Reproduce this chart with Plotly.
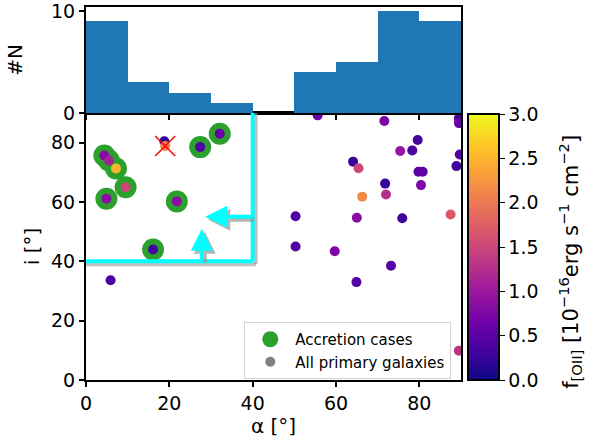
import plotly.graph_objects as go

# ---------------- data ----------------
# all primary galaxies: azimuthal angle alpha [deg], inclination i [deg], [OII] flux [1e-16 erg/s/cm2]
alpha_all = [4.4, 5.5, 7.2, 9.5, 4.9, 21.8, 16.1, 27.4, 32.1, 18.8, 19.0, 5.9,
             55.6, 71.6, 89.5, 89.5, 79.6, 78.3, 75.4, 89.7, 64.1, 65.4, 88.9,
             79.8, 80.8, 71.8, 80.4, 72.0, 66.3, 50.3, 65.0, 75.9, 87.5, 50.3,
             59.7, 73.2, 64.9, 89.5]
incl_all = [75.7, 74.0, 71.3, 65.0, 61.1, 60.2, 44.0, 78.5, 83.0, 80.5, 78.9, 33.6,
            89.2, 87.3, 88.2, 86.6, 80.9, 77.4, 77.2, 76.0, 73.6, 71.4, 72.1,
            70.2, 70.2, 66.2, 65.7, 62.5, 61.8, 55.2, 54.7, 54.5, 55.8, 45.0,
            43.4, 38.5, 33.0, 9.9]
foii_all = [0.8, 1.1, 2.5, 1.5, 0.85, 0.85, 0.35, 0.4, 0.6, 0.2, 2.1, 0.35,
            0.6, 0.75, 0.3, 0.6, 0.35, 0.4, 0.95, 0.45, 0.25, 1.5, 0.3,
            0.5, 0.5, 0.25, 0.75, 1.25, 2.15, 0.4, 0.85, 0.3, 1.7, 0.4,
            0.75, 0.45, 0.4, 1.3]

# accretion cases
alpha_acc = [4.4, 5.5, 7.2, 9.5, 4.9, 21.8, 16.1, 27.4, 32.1]
incl_acc = [75.7, 74.0, 71.3, 65.0, 61.1, 60.2, 44.0, 78.5, 83.0]

# rejected (crossed) galaxy
alpha_cross = [19.0]
incl_cross = [78.9]

# histogram of alpha
hist_edges = [0, 10, 20, 30, 40, 50, 60, 70, 80, 90]
hist_counts = [9, 3, 2, 1, 0, 4, 5, 10, 9]

# accretion selection region and arrows
region_alpha_max = 40
region_incl_min = 40
arrow_left_tail = (40, 55.0)
arrow_left_head = (28.6, 55.0)
arrow_up_tail = (27.8, 40)
arrow_up_head = (27.8, 51.0)

colorbar_ticks = [0.0, 0.5, 1.0, 1.5, 2.0, 2.5, 3.0]
colorbar_title = "f<sub>[OII]</sub> [10<sup>−16</sup>erg s<sup>−1</sup> cm<sup>−2</sup>]"

# ---------------- figure ----------------
W, H = 600, 443
ML, MR, MT, MB = 85.5, 139, 7, 63
plot_h = H - MT - MB
plot_w = W - ML - MR
split = (380 - 113) / plot_h
px_per_x = plot_w / 90.0
px_per_y = (split * plot_h) / 90.0

FONT = "DejaVu Sans"
fig = go.Figure()

centers = [(hist_edges[k] + hist_edges[k + 1]) / 2 for k in range(len(hist_counts))]
widths = [hist_edges[k + 1] - hist_edges[k] for k in range(len(hist_counts))]
fig.add_trace(go.Bar(x=centers, y=hist_counts, width=widths, marker=dict(color="#1f77b4", line=dict(width=0)),
                     xaxis="x2", yaxis="y2", showlegend=False, hoverinfo="skip"))

# green accretion circles
fig.add_trace(go.Scatter(x=alpha_acc, y=incl_acc, mode="markers",
                         marker=dict(color="#2ca02c", size=22, line=dict(width=0)),
                         showlegend=False))

# all galaxies
fig.add_trace(go.Scatter(x=alpha_all, y=incl_all, mode="markers",
                         marker=dict(color=foii_all, colorscale="Plasma", cmin=0, cmax=3, size=10,
                                     line=dict(width=0),
                                     colorbar=dict(
                                         x=(468 - ML) / plot_w, xanchor="left", xref="paper",
                                         y=0, yanchor="bottom", len=(380 - 114) / plot_h, lenmode="fraction",
                                         thickness=31, outlinecolor="black", outlinewidth=2,
                                         xpad=0, ypad=0,
                                         tickvals=colorbar_ticks, tickformat=".1f",
                                         ticks="outside", ticklen=5, tickcolor="black",
                                         tickfont=dict(family=FONT, size=19, color="black"),
                                     )),
                         showlegend=False))

# crossed point
fig.add_trace(go.Scatter(x=alpha_cross, y=incl_cross, mode="markers",
                         marker=dict(symbol="x-thin", size=20, line=dict(color="red", width=1.5)),
                         showlegend=False))

# legend entries
fig.add_trace(go.Scatter(x=[None], y=[None], mode="markers", name="Accretion cases",
                         marker=dict(color="#2ca02c", size=22)))
fig.add_trace(go.Scatter(x=[None], y=[None], mode="markers", name="All primary galaxies",
                         marker=dict(color="gray", size=10)))

# region L-lines with shadow
sdx = 3 / px_per_x
sdy = 3 / px_per_y
shapes = []
for col, dx, dy in [("rgba(150,150,150,0.6)", sdx, sdy), ("cyan", 0, 0)]:
    shapes.append(dict(type="line", xref="x", yref="y", x0=0, x1=region_alpha_max + dx,
                       y0=region_incl_min - dy, y1=region_incl_min - dy, line=dict(color=col, width=4)))
    shapes.append(dict(type="line", xref="x", yref="y", x0=region_alpha_max + dx, x1=region_alpha_max + dx,
                       y0=region_incl_min - dy, y1=90, line=dict(color=col, width=4)))

annotations = []
for col, xs, ys in [("rgba(150,150,150,0.7)", 3, -3), ("cyan", 0, 0)]:
    for tail, head in [(arrow_left_tail, arrow_left_head), (arrow_up_tail, arrow_up_head)]:
        annotations.append(dict(x=head[0], y=head[1], ax=tail[0], ay=tail[1], xref="x", yref="y",
                                axref="x", ayref="y", text="", showarrow=True, arrowhead=2,
                                arrowsize=1.1, arrowwidth=4, arrowcolor=col, standoff=0,
                                xshift=xs, yshift=ys))

# colorbar title as rotated text
annotations.append(dict(text=colorbar_title, xref="paper", yref="paper",
                        x=(570 - ML) / plot_w, y=(380 - 262) / plot_h, xanchor="center", yanchor="middle",
                        textangle=-90, showarrow=False,
                        font=dict(family=FONT, size=21, color="black")))

axis_common = dict(showline=True, mirror=True, linecolor="black", linewidth=2,
                   ticks="outside", ticklen=5, tickwidth=1.5, tickcolor="black",
                   showgrid=False, zeroline=False, automargin=False, ticklabeloverflow="allow",
                   tickfont=dict(family=FONT, size=19, color="black"))

fig.update_layout(
    width=W, height=H,
    margin=dict(l=ML, r=MR, t=MT, b=MB, autoexpand=False),
    paper_bgcolor="white", plot_bgcolor="white",
    bargap=0,
    shapes=shapes, annotations=annotations,
    xaxis=dict(domain=[0, 1], range=[0, 90], tickvals=[0, 20, 40, 60, 80], anchor="y",
               title=dict(text="α [°]", font=dict(family=FONT, size=20, color="black"), standoff=4),
               **axis_common),
    yaxis=dict(domain=[0, split], range=[0, 90], tickvals=[0, 20, 40, 60, 80], anchor="x",
               title=dict(text="i [°]", font=dict(family=FONT, size=20, color="black"), standoff=6),
               **axis_common),
    xaxis2=dict(domain=[0, 1], range=[0, 90], tickvals=[0, 20, 40, 60, 80], anchor="y2",
                showticklabels=False, **axis_common),
    yaxis2=dict(domain=[split, 1], range=[0, 10.4], tickvals=[0, 10], anchor="x2",
                title=dict(text="#N", font=dict(family=FONT, size=20, color="black"), standoff=23),
                **axis_common),
    legend=dict(x=(244 - ML) / plot_w, y=(380 - 322) / plot_h, xanchor="left", yanchor="top",
                bgcolor="rgba(255,255,255,0.8)", bordercolor="lightgray", borderwidth=1,
                font=dict(family=FONT, size=15, color="black"), itemsizing="trace",
                itemwidth=40, tracegroupgap=0),
)

fig.write_html("out.html", config={"displayModeBar": False},
               post_script="document.body.style.margin='0';")
